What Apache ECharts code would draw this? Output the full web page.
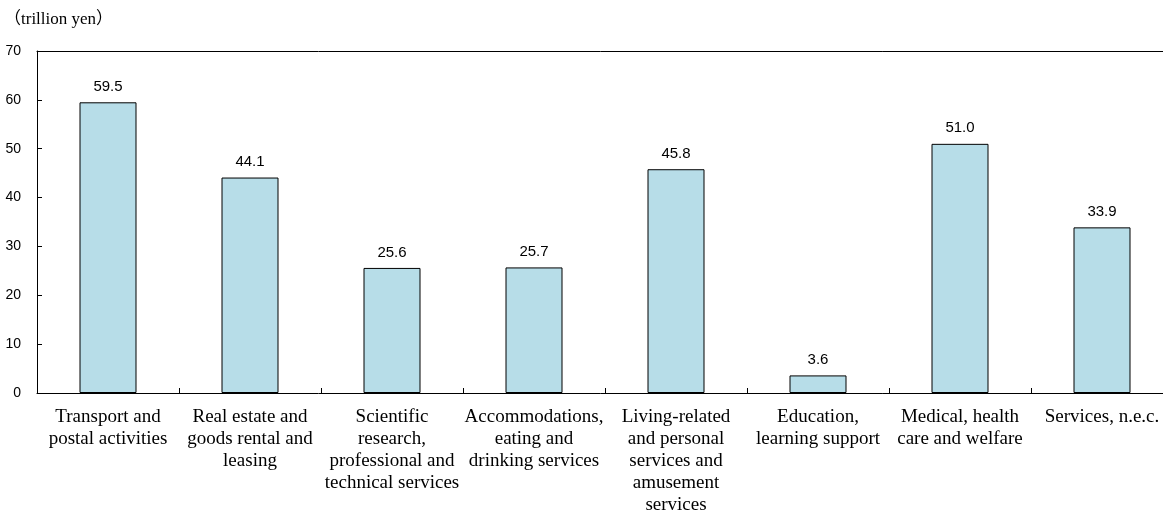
<!DOCTYPE html>
<html>
<head>
<meta charset="utf-8">
<script src="https://cdn.jsdelivr.net/npm/echarts@6/dist/echarts.min.js"></script>
<style>
html,body{margin:0;padding:0;background:#fff;overflow:hidden;}
#chart{width:1163px;height:511px;}
</style>
</head>
<body>
<div id="chart"></div>
<script>
const categories = [
  "Transport and\npostal activities",
  "Real estate and\ngoods rental and\nleasing",
  "Scientific\nresearch,\nprofessional and\ntechnical services",
  "Accommodations,\neating and\ndrinking services",
  "Living-related\nand personal\nservices and\namusement\nservices",
  "Education,\nlearning support",
  "Medical, health\ncare and welfare",
  "Services, n.e.c."
];
const values = [59.5, 44.1, 25.6, 25.7, 45.8, 3.6, 51.0, 33.9];
const unitLabel = "（trillion yen）";

const chart = echarts.init(document.getElementById('chart'), null, {renderer: 'canvas'});
chart.setOption({
  animation: false,
  backgroundColor: '#ffffff',
  grid: {left: 37, top: 51, right: -10, bottom: 118, containLabel: false, outerBoundsMode: 'none'},
  graphic: [{
    type: 'text', left: 4, top: 11,
    style: {text: unitLabel, font: '17px "Liberation Serif", "Noto Sans CJK JP", serif', fill: '#000'}
  }],
  xAxis: [{
    type: 'category',
    data: categories,
    axisLine: {show: true, lineStyle: {color: '#000', width: 1}},
    axisTick: {show: true, inside: true, length: 5, alignWithLabel: false, lineStyle: {color: '#000'}},
    axisLabel: {
      interval: 0, margin: 13, color: '#000',
      fontFamily: '"Liberation Serif", serif', fontSize: 19, lineHeight: 22, align: 'center'
    }
  }, {
    type: 'category',
    position: 'top',
    data: categories,
    axisLine: {show: true, lineStyle: {color: '#000', width: 1}},
    axisTick: {show: false},
    axisLabel: {show: false}
  }],
  yAxis: {
    type: 'value', min: 0, max: 70, interval: 10,
    axisLine: {show: true, lineStyle: {color: '#000', width: 1}},
    axisTick: {show: true, inside: true, length: 5, lineStyle: {color: '#000'}},
    splitLine: {show: false},
    axisLabel: {margin: 16, color: '#000', fontFamily: '"Liberation Sans", Arial, sans-serif', fontSize: 14}
  },
  series: [{
    type: 'bar',
    data: values,
    xAxisIndex: 0,
    barWidth: 57,
    itemStyle: {color: '#B7DDE8', borderColor: '#000', borderWidth: 1},
    label: {
      show: true, position: 'top', distance: 8, color: '#000',
      fontFamily: '"Liberation Sans", Arial, sans-serif', fontSize: 15,
      formatter: p => p.value.toFixed(1)
    }
  }]
});
</script>
</body>
</html>
